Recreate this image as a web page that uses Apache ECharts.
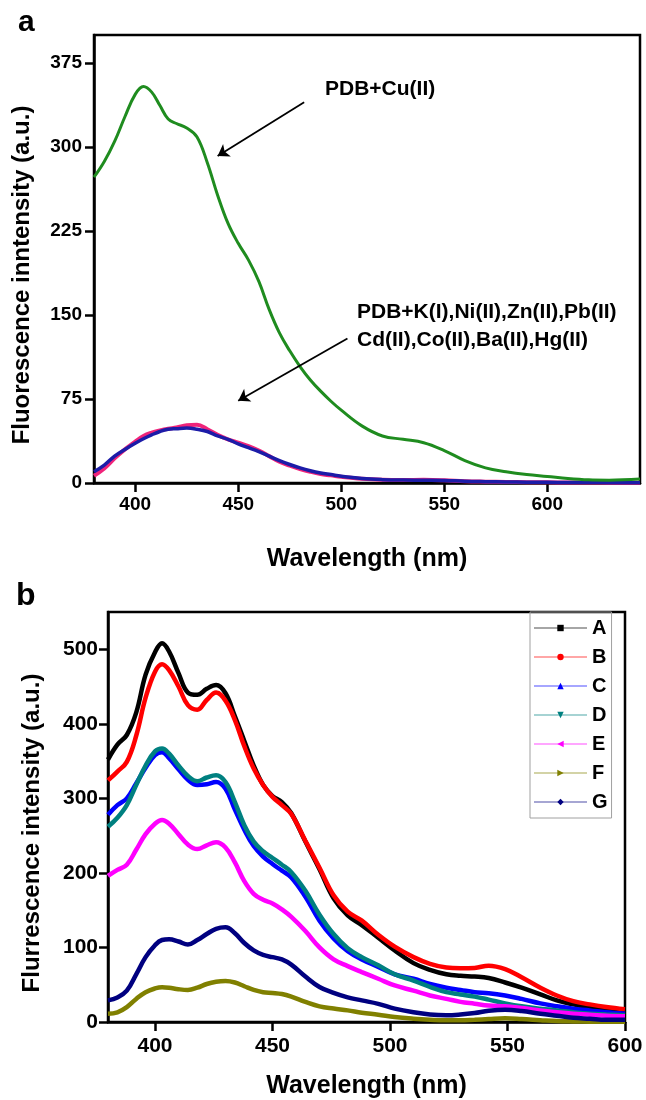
<!DOCTYPE html>
<html>
<head>
<meta charset="utf-8">
<script src="https://cdn.jsdelivr.net/npm/echarts@6/dist/echarts.min.js"></script>
<style>
html, body { margin: 0; padding: 0; background: #fff; }
#main { width: 646px; height: 1100px; }
</style>
</head>
<body>
<div id="main"></div>
<script>
// panel a: PDB with metal ions
var wlA = [380, 385, 390, 395, 400, 404, 408, 412, 416, 420, 425, 430, 435, 440, 445, 450, 455, 460, 465, 470,
  475, 480, 485, 490, 495, 500, 510, 520, 530, 540, 550, 560, 570, 580, 590, 600, 610, 620, 630, 645];
var cuA = [273, 287, 305, 327, 347, 354, 349, 337, 325, 321, 317, 309, 286, 257, 232, 214, 199, 180, 155, 134,
  118, 104, 92, 82, 73, 65, 51, 42, 39, 36, 29, 20, 13.5, 10, 7.5, 5.8, 4, 2.8, 2.5, 3.5];
var pinkA = [6.5, 13, 22, 30, 37, 42, 45, 47, 48.5, 49.5, 51.5, 52, 48, 43, 39, 36, 33, 29, 24, 19,
  15.5, 12.5, 10, 8, 6.8, 5.5, 3.7, 2.8, 2.6, 2.8, 2.4, 1.6, 1.2, 0.9, 0.7, 0.6, 0.5, 0.4, 0.3, 0.3];
var blueA = [10, 16, 24, 30, 35.5, 39.5, 43, 46, 48, 48.5, 49, 48, 46, 42, 39, 35, 31.5, 28, 24, 20,
  16.5, 13.5, 11, 9, 7.5, 6, 4, 3, 2.6, 2.5, 2.3, 1.6, 1.2, 0.9, 0.7, 0.6, 0.5, 0.4, 0.3, 0.3];
var ticksAx = [400, 450, 500, 550, 600];
var ticksAy = [0, 75, 150, 225, 300, 375];
var arrowFrom = [[482, 340], [503, 129]];
var arrowTo = [[440, 292], [450, 73.5]];

// panel b: series A-G
var wlB = [380, 384, 388, 392, 396, 400, 403, 406, 410, 414, 418, 422, 426, 430, 434, 438, 442, 446, 450, 454, 458,
  464, 470, 476, 482, 488, 495, 502, 510, 517, 524, 530, 536, 542, 549, 556, 564, 571, 578, 585, 592, 600];
var sA = [352, 372, 385, 415, 466, 496, 508, 497, 468, 442, 439, 447, 452, 441, 410, 377, 344, 318, 303, 295, 280,
  242, 205, 166, 143, 130, 113, 96, 79, 70, 64, 62, 61, 59, 53, 46, 37, 29, 23.6, 19, 15.6, 13];
var sB = [324, 336, 349, 384, 435, 470, 480, 472, 450, 425, 419, 432, 442, 431, 405, 370, 340, 318, 302, 291, 279,
  243, 207, 170, 148, 136, 117, 101, 87, 78, 73, 72, 72.5, 75.6, 71, 60, 46, 35.6, 28, 23.6, 20, 17];
var sC = [278, 291, 300, 320, 341, 358, 362, 354, 339, 325, 318, 319, 322, 313, 285, 258, 236, 222, 212, 203, 194,
  168, 136, 112, 95, 84, 74, 64, 58, 51, 46, 43, 40, 38.7, 35.6, 31, 25, 21, 17.8, 15.6, 13, 11];
var sD = [262, 274, 291, 318, 344, 363, 367, 360, 344, 330, 323, 328, 331, 322, 295, 264, 242, 229, 220, 211, 201,
  176, 144, 118, 99, 87, 76, 64, 55.6, 47, 40, 37, 34, 30, 25, 21, 17.8, 15.6, 13, 11, 10, 9];
var sE = [196, 204, 211, 231, 252, 266, 271, 266, 252, 238, 232, 237, 241, 234, 214, 189, 172, 164, 159, 151, 141,
  122, 100, 84, 75, 67, 58, 49, 42, 35.6, 31, 27, 24.5, 22, 21, 18.7, 15.6, 13, 11, 9.8, 8.4, 7.6];
var sF = [11, 13, 20, 31, 40, 45, 46.7, 46, 44, 43, 46, 51, 54, 55, 53, 48, 43, 40, 39, 37.5, 34,
  27, 21, 18, 15.6, 12.5, 9.8, 6.7, 4.4, 3, 2.2, 2.2, 3, 4, 4.9, 4, 2.5, 1.3, 0.8, 0.5, 0.4, 0.4];
var sG = [29, 33, 42, 64, 87, 103, 110, 111, 108, 104, 110, 118, 125, 127, 119, 106, 96, 90, 87, 84, 77,
  61, 47, 39, 33, 29, 24.4, 18, 13, 10, 9, 10, 12, 15, 16.4, 14.7, 11, 8.4, 5.8, 4.4, 3, 3];
var namesB = ['A', 'B', 'C', 'D', 'E', 'F', 'G'];
var colorsB = ['#000000', '#ff0000', '#0000ff', '#008080', '#ff00ff', '#808000', '#000080'];
var symbolsB = ['rect', 'circle', 'triangle', 'triangle', 'triangle', 'triangle', 'diamond'];
var rotateB = [0, 0, 0, 180, 90, -90, 0];
var ticksBx = [400, 450, 500, 550, 600];
var ticksBy = [0, 100, 200, 300, 400, 500];

var font = 'Liberation Sans, Arial, sans-serif';

function pairs(xs, ys) {
  return xs.map(function (x, i) { return [x, ys[i]]; });
}

function xAxisOf(idx, min, max, ticks, margin, gap) {
  return {
    type: 'value', gridIndex: idx, min: min, max: max,
    name: 'Wavelength (nm)', nameLocation: 'middle', nameGap: gap,
    nameTextStyle: { fontSize: 25, fontWeight: 'bold', color: '#000', fontFamily: font },
    axisLine: { onZero: false, lineStyle: { color: '#000', width: 2.5 } },
    axisTick: { length: 9, customValues: ticks, lineStyle: { color: '#000', width: 2.5 } },
    axisLabel: { customValues: ticks, margin: margin, fontSize: idx ? 21 : 19, fontWeight: 'bold', color: '#000', fontFamily: font },
    splitLine: { show: false }
  };
}

function yAxisOf(idx, max, ticks, name, gap) {
  return {
    type: 'value', gridIndex: idx, min: 0, max: max,
    name: name, nameLocation: 'middle', nameGap: gap,
    nameTextStyle: { fontSize: 24, fontWeight: 'bold', color: '#000', fontFamily: font, padding: [0, 32, 0, 0] },
    axisLine: { show: true, lineStyle: { color: '#000', width: 2.5 } },
    axisTick: { show: true, length: 9, customValues: ticks, lineStyle: { color: '#000', width: 2.5 } },
    axisLabel: { customValues: ticks, margin: idx ? 10 : 12, fontSize: idx ? 21 : 19, fontWeight: 'bold', color: '#000', fontFamily: font },
    splitLine: { show: false }
  };
}

var seriesList = [
  {
    name: 'PDB+K(I)', type: 'line', xAxisIndex: 0, yAxisIndex: 0, data: pairs(wlA, pinkA),
    smooth: 0.4, showSymbol: false, lineStyle: { color: '#f0247a', width: 4 }, itemStyle: { color: '#f0247a' }
  },
  {
    name: 'PDB+Ni(II)', type: 'line', xAxisIndex: 0, yAxisIndex: 0, data: pairs(wlA, blueA),
    smooth: 0.4, showSymbol: false, lineStyle: { color: '#1c1ca8', width: 3.5 }, itemStyle: { color: '#1c1ca8' }
  },
  {
    name: 'PDB+Cu(II)', type: 'line', xAxisIndex: 0, yAxisIndex: 0, data: pairs(wlA, cuA),
    smooth: 0.4, showSymbol: false, lineStyle: { color: '#1f8c1f', width: 3 }, itemStyle: { color: '#1f8c1f' },
    markLine: {
      silent: true, animation: false, symbol: ['none', 'arrow'], symbolSize: 11,
      lineStyle: { color: '#000', width: 1.8, type: 'solid' }, label: { show: false },
      data: arrowFrom.map(function (p, i) { return [{ coord: p }, { coord: arrowTo[i] }]; })
    }
  }
];

var dataB = [sA, sB, sC, sD, sE, sF, sG];
namesB.forEach(function (n, i) {
  seriesList.push({
    name: n, type: 'line', xAxisIndex: 1, yAxisIndex: 1, data: pairs(wlB, dataB[i]),
    smooth: 0.4, showSymbol: false, symbol: symbolsB[i], symbolRotate: rotateB[i],
    lineStyle: { color: colorsB[i], width: 4.5 }, itemStyle: { color: colorsB[i] }
  });
});

var chart = echarts.init(document.getElementById('main'));
chart.setOption({
  animation: false,
  backgroundColor: '#fff',
  grid: [
    { left: 94, top: 35, width: 546, height: 448, show: true, borderColor: '#000', borderWidth: 2.5 },
    { left: 108, top: 612, width: 517, height: 413, show: true, borderColor: '#000', borderWidth: 2.5 }
  ],
  xAxis: [xAxisOf(0, 380, 645, ticksAx, 12, 64), xAxisOf(1, 380, 600, ticksBx, 14, 52)],
  yAxis: [
    yAxisOf(0, 400, ticksAy, 'Fluorescence inntensity (a.u.)', 60),
    yAxisOf(1, 550, ticksBy, 'Flurrescence intensity (a.u.)', 64)
  ],
  legend: {
    data: namesB, orient: 'vertical', left: 530, top: 612,
    padding: [6, 4, 6, 3], itemWidth: 53, itemHeight: 8, itemGap: 9,
    borderColor: '#a0a0a0', borderWidth: 1, selectedMode: false,
    lineStyle: { width: 2, opacity: 0.35 },
    textStyle: { fontSize: 20, fontWeight: 'bold', color: '#000', fontFamily: font }
  },
  graphic: [
    { type: 'text', left: 18, top: 8, style: { text: 'a', font: 'bold 30px ' + font, fill: '#000' } },
    { type: 'text', left: 16, top: 580, style: { text: 'b', font: 'bold 32px ' + font, fill: '#000' } },
    { type: 'text', left: 325, top: 79, style: { text: 'PDB+Cu(II)', font: 'bold 21px ' + font, fill: '#000' } },
    {
      type: 'text', left: 357, top: 298,
      style: { text: 'PDB+K(I),Ni(II),Zn(II),Pb(II)\nCd(II),Co(II),Ba(II),Hg(II)', font: 'bold 21px ' + font, fill: '#000', lineHeight: 28 }
    }
  ],
  series: seriesList
});
</script>
</body>
</html>
